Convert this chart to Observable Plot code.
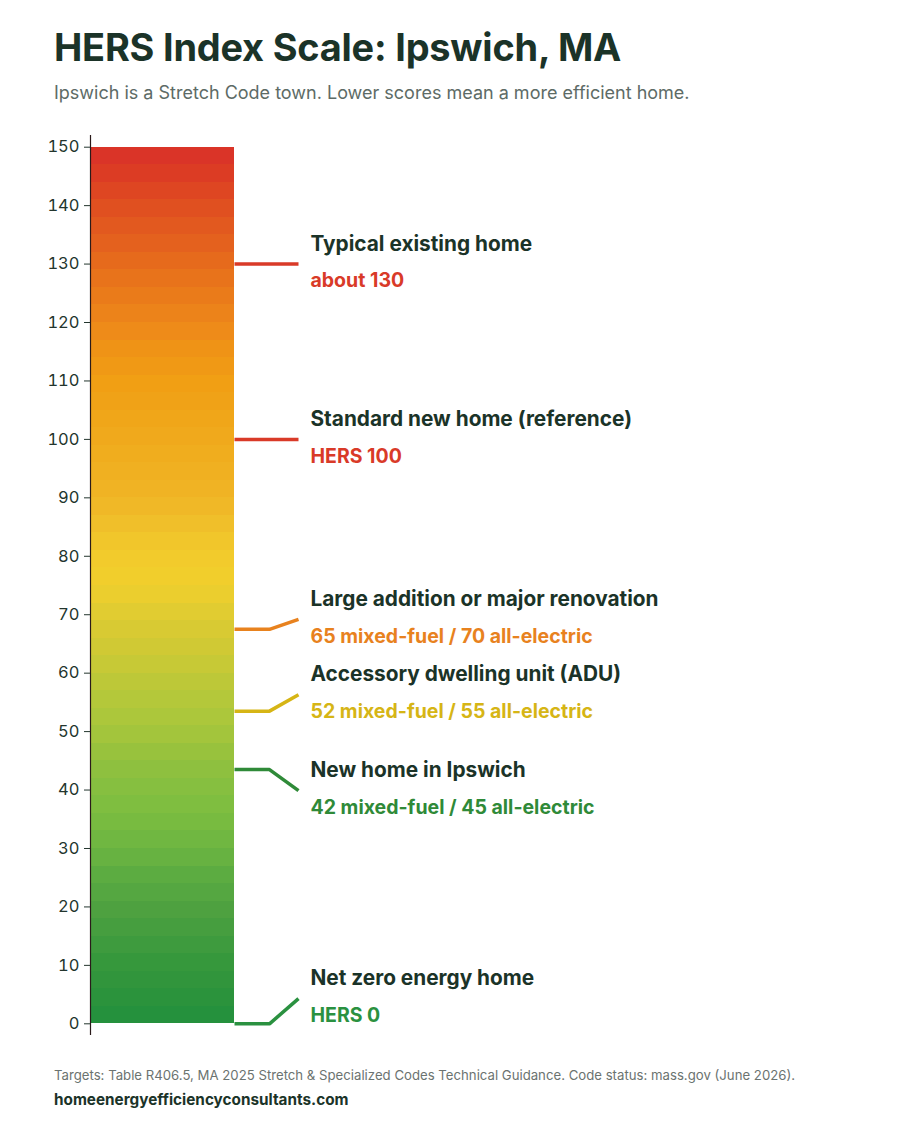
<!DOCTYPE html>
<html>
<head>
<meta charset="utf-8">
<script src="https://cdn.jsdelivr.net/npm/d3@7"></script>
<script src="https://cdn.jsdelivr.net/npm/@observablehq/plot@0.6"></script>
<style>
  html, body { margin: 0; padding: 0; background: #fff; }
  body { width: 900px; height: 1125px; position: relative; font-family: Inter, "Noto Sans", sans-serif; overflow: hidden; }
  #title { position: absolute; left: 54px; top: 25px; margin: 0; font-size: 37.9px; font-weight: 700; color: #1b3328; letter-spacing: -0.2px; line-height: 1.2; }
  #subtitle { position: absolute; left: 54px; top: 82px; margin: 0; font-size: 18px; color: #5d6b66; }
  #chart { position: absolute; left: 0; top: 115px; }
  #source { position: absolute; left: 54px; top: 1067px; font-size: 13.2px; color: #6b7370; }
  #site { position: absolute; left: 54px; top: 1090px; font-size: 15.3px; font-weight: 700; color: #1b3328; }
</style>
</head>
<body>
<h1 id="title">HERS Index Scale: Ipswich, MA</h1>
<p id="subtitle">Ipswich is a Stretch Code town. Lower scores mean a more efficient home.</p>
<div id="chart"></div>
<div id="source">Targets: Table R406.5, MA 2025 Stretch &amp; Specialized Codes Technical Guidance. Code status: mass.gov (June 2026).</div>
<div id="site">homeenergyefficiencyconsultants.com</div>
<script>
// HERS scale: colour stops along the index (0 = net zero, 150 = least efficient)
const stopValues = [0, 5, 10, 15, 20, 25, 30, 35, 40, 45, 50, 55, 58, 64, 68, 72, 75, 80, 85, 90, 95, 100, 105, 110, 115, 120, 125, 130, 135, 140, 145, 150];
const stopColors = ["#22903e", "#2c933c", "#35973c", "#429c3f", "#4fa240", "#5aab41", "#6cb541", "#79bc40", "#85bf40", "#92c13e", "#a5c53c", "#b3c83a", "#bbc838", "#cfc934", "#d9ca33", "#e5cd30", "#f1cf2c", "#f2cb2c", "#f0c02a", "#f0b426", "#f0b020", "#f0aa1c", "#f0a418", "#f19e14", "#ef9416", "#ed871a", "#ea7a1a", "#e66b1c", "#e35d1f", "#e04f20", "#dc3d23", "#d9302a"];
const bandStep = 3;
const scaleMax = 150;

// Benchmarks on the scale
const labelTitles = ["Typical existing home", "Standard new home (reference)", "Large addition or major renovation", "Accessory dwelling unit (ADU)", "New home in Ipswich", "Net zero energy home"];
const labelValues = ["about 130", "HERS 100", "65 mixed-fuel / 70 all-electric", "52 mixed-fuel / 55 all-electric", "42 mixed-fuel / 45 all-electric", "HERS 0"];
const markerValues = [130, 100, 67.5, 53.5, 43.5, 0];        // where each leader leaves the bar
const labelAnchors = [130, 100, 69.2, 56.3, 39.9, 4.3];      // where each label block sits
const labelColors = ["#d93a28", "#d93a28", "#e8821e", "#d6b515", "#2f8a38", "#2a9140"];

const yTicks = [0, 10, 20, 30, 40, 50, 60, 70, 80, 90, 100, 110, 120, 130, 140, 150];

// horizontal layout in the x scale (pixels from the axis)
const barWidth = 144, elbow = 179, leaderEnd = 208, textX = 220;

const bands = d3.range(0, scaleMax, bandStep).map(lo => ({lo, hi: Math.min(lo + bandStep, scaleMax), mid: lo + bandStep / 2}));
const bandColor = d3.scaleLinear().domain(stopValues).range(stopColors).interpolate(d3.interpolateRgb);

const labels = labelTitles.map((t, i) => ({title: t, value: labelValues[i], marker: markerValues[i], anchor: labelAnchors[i], color: labelColors[i]}));
const leaders = labels.flatMap(d => [
  {name: d.title, x: barWidth, y: d.marker, color: d.color},
  {name: d.title, x: elbow, y: d.marker, color: d.color},
  {name: d.title, x: leaderEnd, y: d.anchor, color: d.color}
]);

const plot = Plot.plot({
  width: 900,
  height: 940,
  marginLeft: 90,
  marginRight: 0,
  marginTop: 20,
  marginBottom: 20,
  style: {fontFamily: "Inter, 'Noto Sans', sans-serif", background: "#fff"},
  x: {type: "linear", domain: [0, 810], axis: null},
  y: {type: "linear", domain: [-2, 152], axis: null},
  marks: [
    Plot.rect(bands, {x1: 0, x2: barWidth, y1: "lo", y2: "hi", fill: d => bandColor(d.mid), inset: 0, shapeRendering: "crispEdges"}),
    Plot.ruleX([0], {stroke: "#2a1a1a", strokeWidth: 1.2}),
    Plot.axisY({ticks: yTicks, tickSize: 6, tickPadding: 5, fontSize: 16.5, color: "#23352d", tickFormat: d => d, label: null}),
    Plot.line(leaders, {x: "x", y: "y", z: "name", stroke: "color", strokeWidth: 3.5, strokeLinejoin: "miter", strokeLinecap: "butt"}),
    Plot.text(labels, {x: textX, y: "anchor", text: "title", dy: -20, textAnchor: "start", fontSize: 20.8, fontWeight: 700, fill: "#1b3328"}),
    Plot.text(labels, {x: textX, y: "anchor", text: "value", dy: 17, textAnchor: "start", fontSize: 19.5, fontWeight: 700, fill: "color"})
  ]
});
document.getElementById("chart").appendChild(plot);
</script>
</body>
</html>
